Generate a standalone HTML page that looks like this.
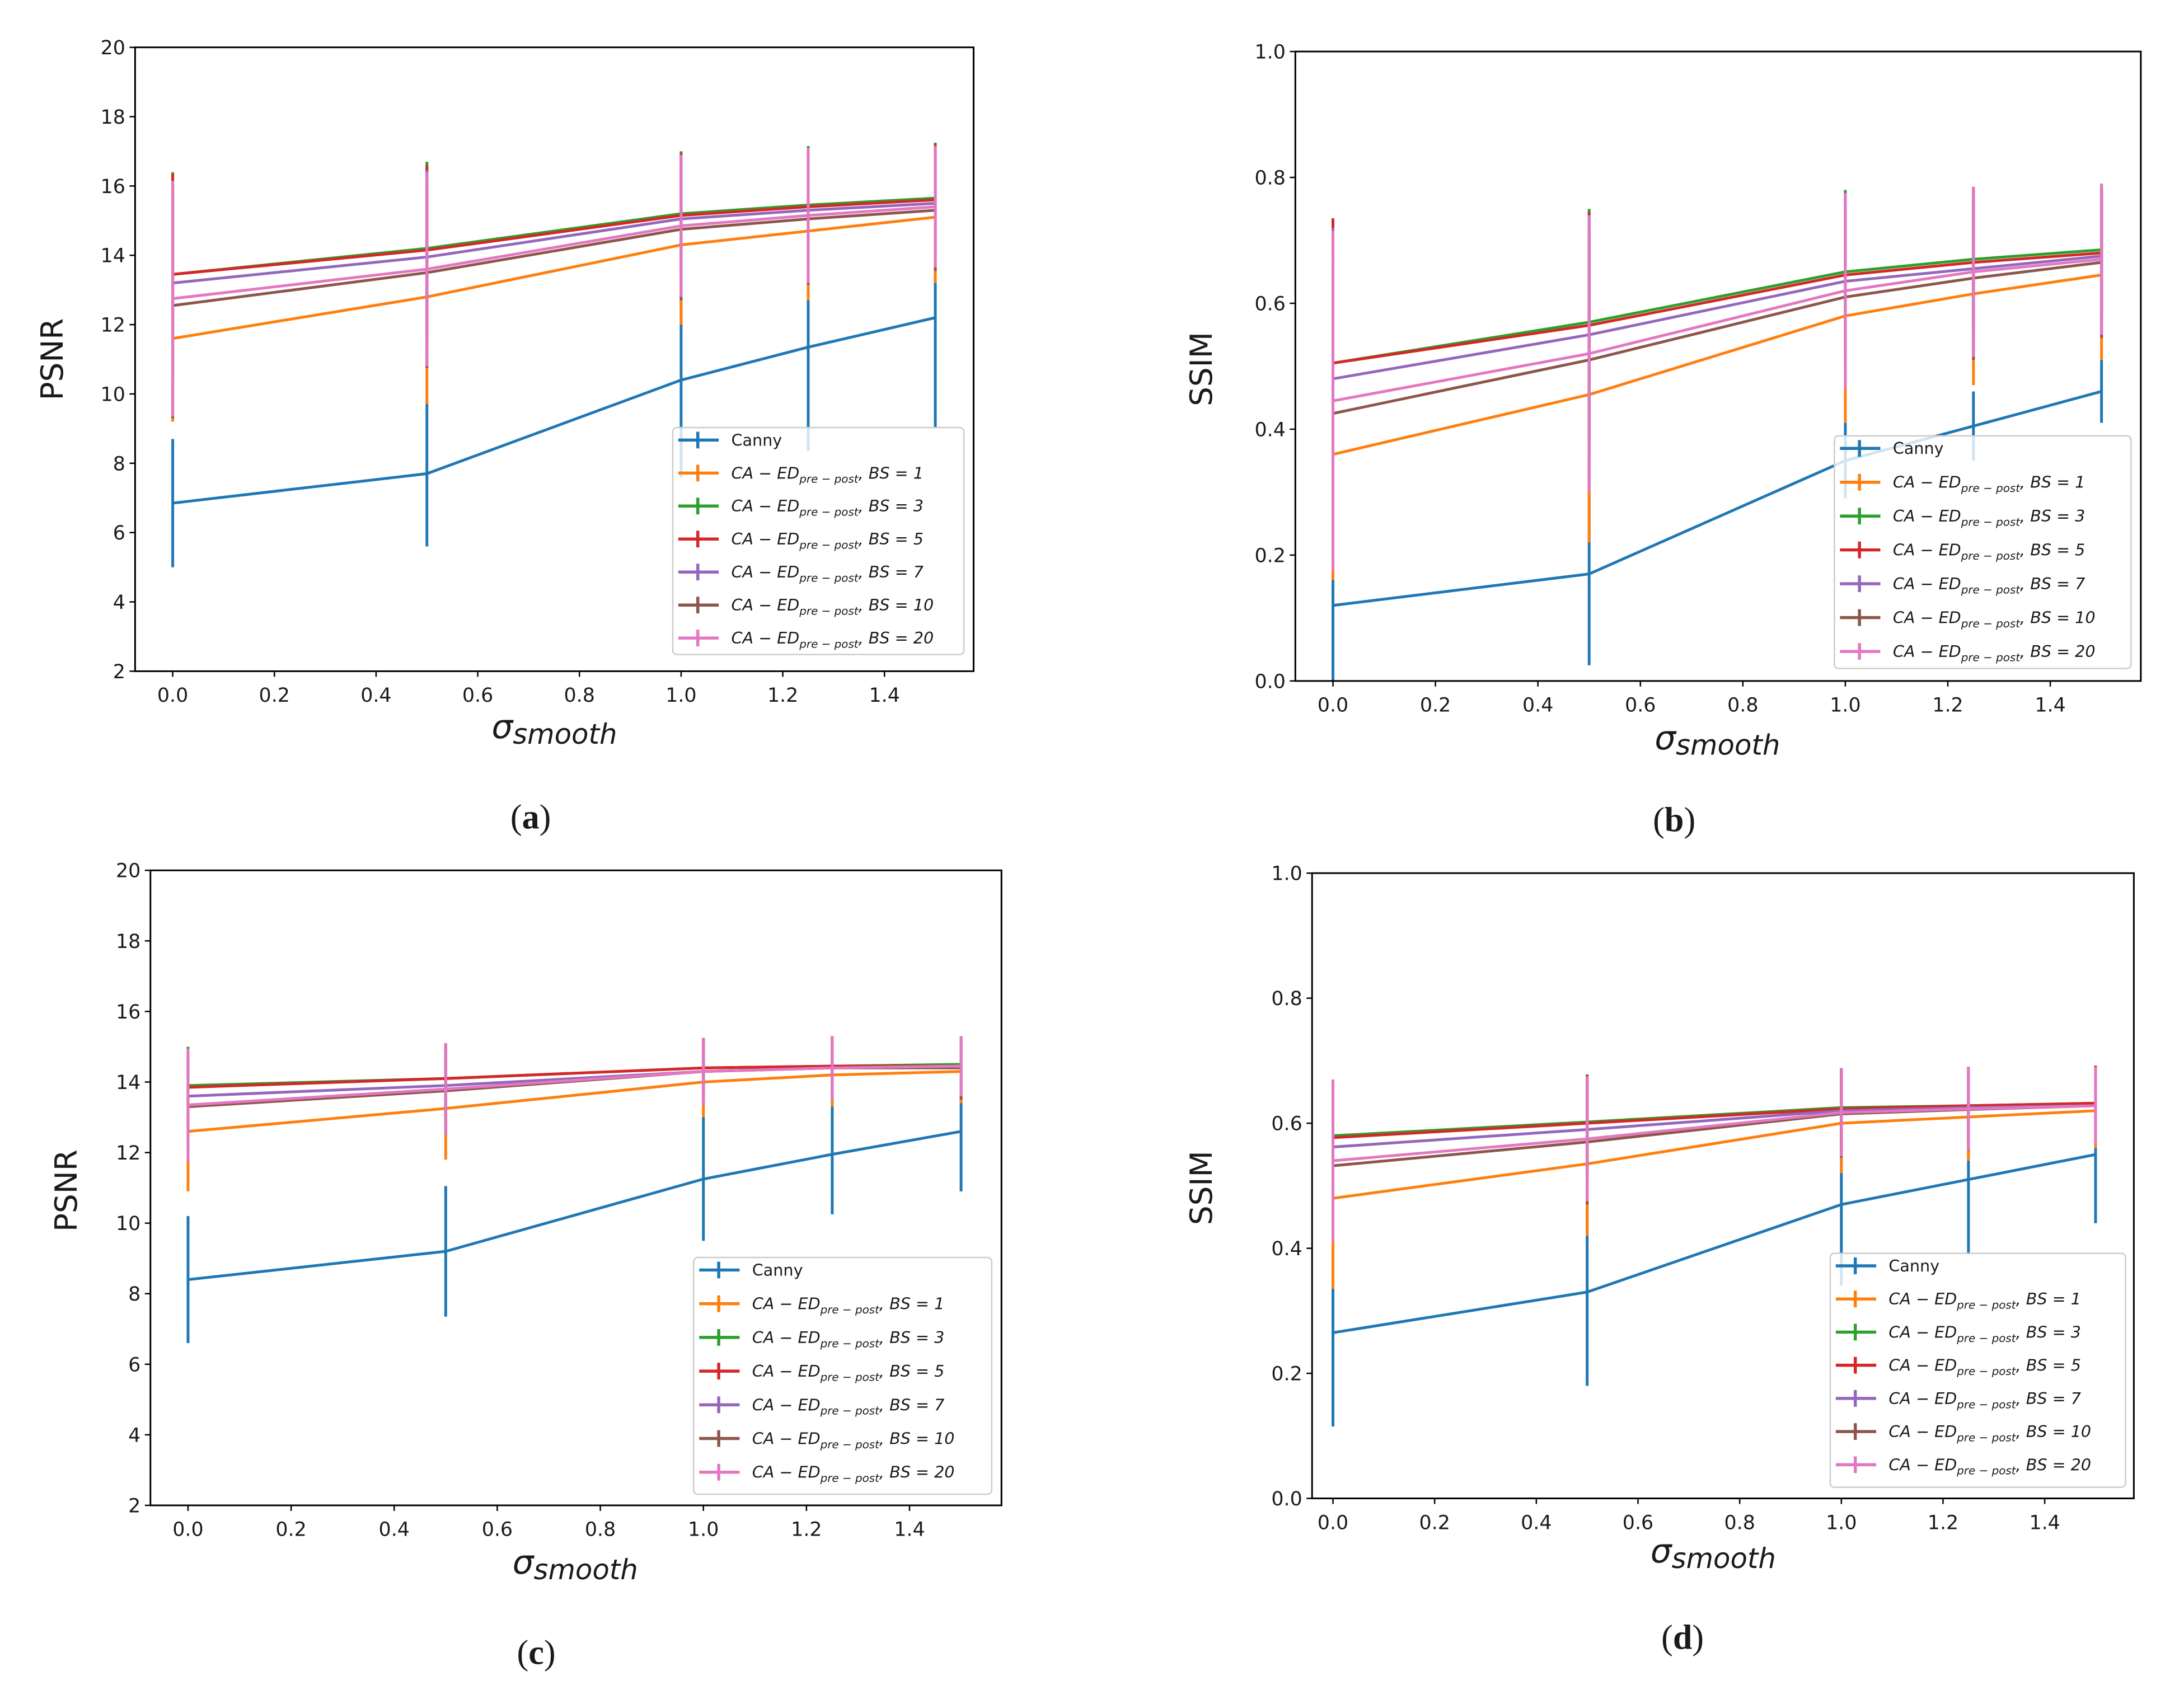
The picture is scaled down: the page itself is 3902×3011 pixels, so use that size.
<!DOCTYPE html>
<html><head><meta charset="utf-8"><style>
html,body{margin:0;padding:0;background:#fff;}
svg{display:block;}
text{font-family:"DejaVu Sans","Liberation Sans",sans-serif;fill:#1a1a1a;}
text.serif{font-family:"Liberation Serif",serif;}
</style></head>
<body>
<svg id="fig" xmlns="http://www.w3.org/2000/svg" width="3902" height="3011" viewBox="0 0 1568 1210" preserveAspectRatio="none"></svg>
<script>
const xVals = [0, 0.5, 1.0, 1.25, 1.5];
const seriesNames = ["Canny","BS = 1","BS = 3","BS = 5","BS = 7","BS = 10","BS = 20"];
const colors = ["#1f77b4","#ff7f0e","#2ca02c","#d62728","#9467bd","#8c564b","#e377c2"];
const xTicks = [0,0.2,0.4,0.6,0.8,1.0,1.2,1.4];
const psnrTicks = [2,4,6,8,10,12,14,16,18,20];
const ssimTicks = [0,0.2,0.4,0.6,0.8,1.0];

// Panel a (PSNR)
const aMeans = [
 [6.85,7.7,10.4,11.35,12.2],
 [11.6,12.8,14.3,14.7,15.1],
 [13.45,14.2,15.2,15.45,15.65],
 [13.45,14.15,15.15,15.4,15.6],
 [13.2,13.95,15.05,15.3,15.5],
 [12.55,13.5,14.75,15.05,15.3],
 [12.75,13.6,14.85,15.15,15.4]];
const aErr = [
 [1.85,2.1,2.8,3.0,3.2],
 [2.4,3.1,2.3,2.0,1.9],
 [2.95,2.5,1.8,1.7,1.6],
 [2.9,2.45,1.8,1.7,1.6],
 [2.95,2.5,1.85,1.75,1.65],
 [3.25,2.75,2.05,1.9,1.75],
 [3.4,2.8,2.05,1.95,1.75]];
// Panel b (SSIM)
const bMeans = [
 [0.12,0.17,0.35,0.405,0.46],
 [0.36,0.455,0.58,0.615,0.645],
 [0.505,0.57,0.65,0.67,0.685],
 [0.505,0.565,0.645,0.665,0.68],
 [0.48,0.55,0.635,0.655,0.675],
 [0.425,0.51,0.61,0.64,0.665],
 [0.445,0.52,0.62,0.65,0.67]];
const bErr = [
 [0.12,0.145,0.06,0.055,0.05],
 [0.2,0.235,0.17,0.145,0.135],
 [0.23,0.18,0.13,0.115,0.105],
 [0.23,0.18,0.13,0.115,0.105],
 [0.24,0.19,0.14,0.125,0.11],
 [0.24,0.2,0.14,0.13,0.12],
 [0.27,0.22,0.155,0.135,0.12]];
// Panel c (PSNR)
const cMeans = [
 [8.4,9.2,11.25,11.95,12.6],
 [12.6,13.25,14.0,14.2,14.3],
 [13.9,14.1,14.4,14.45,14.5],
 [13.85,14.1,14.4,14.45,14.45],
 [13.6,13.9,14.3,14.4,14.45],
 [13.3,13.75,14.3,14.4,14.4],
 [13.35,13.8,14.3,14.4,14.45]];
const cErr = [
 [1.8,1.85,1.75,1.7,1.7],
 [1.7,1.45,1.0,0.9,0.9],
 [1.1,1.0,0.85,0.85,0.8],
 [1.1,1.0,0.85,0.85,0.8],
 [1.3,1.1,0.9,0.85,0.85],
 [1.45,1.25,0.95,0.9,0.9],
 [1.6,1.3,0.95,0.9,0.85]];
// Panel d (SSIM)
const dMeans = [
 [0.265,0.33,0.47,0.51,0.55],
 [0.48,0.535,0.6,0.61,0.62],
 [0.58,0.602,0.625,0.628,0.632],
 [0.577,0.6,0.623,0.628,0.632],
 [0.562,0.59,0.62,0.625,0.628],
 [0.532,0.57,0.615,0.622,0.628],
 [0.54,0.575,0.617,0.623,0.628]];
const dErr = [
 [0.15,0.15,0.13,0.12,0.11],
 [0.145,0.115,0.08,0.07,0.06],
 [0.09,0.076,0.063,0.062,0.06],
 [0.092,0.077,0.064,0.062,0.06],
 [0.1,0.085,0.068,0.065,0.062],
 [0.12,0.1,0.07,0.066,0.062],
 [0.13,0.1,0.07,0.066,0.062]];

const NS="http://www.w3.org/2000/svg";
const svg=document.getElementById('fig');
function el(tag,attrs,parent){const e=document.createElementNS(NS,tag);for(const k in attrs)e.setAttribute(k,attrs[k]);(parent||svg).appendChild(e);return e;}

const panels=[
 {id:'a',means:aMeans,err:aErr,ticks:psnrTicks,ymin:2,ymax:20,fmt:v=>String(v),ylabel:'PSNR',
  L:97,R:699,T:34,B:482,x0:124,x14:635,ylx:45,yly:258,slx:398,sly:530,tagx:381,tagy:595,
  leg:{x:483,y:307,w:209,h:163,y0:316,dy:23.7}},
 {id:'b',means:bMeans,err:bErr,ticks:ssimTicks,ymin:0,ymax:1,fmt:v=>v.toFixed(1),ylabel:'SSIM',
  L:930,R:1537,T:37,B:489,x0:957,x14:1472,ylx:870,yly:265,slx:1233,sly:538,tagx:1202,tagy:597,
  leg:{x:1317,y:313,w:213,h:167,y0:322,dy:24.3}},
 {id:'c',means:cMeans,err:cErr,ticks:psnrTicks,ymin:2,ymax:20,fmt:v=>String(v),ylabel:'PSNR',
  L:108,R:719,T:625,B:1081,x0:135,x14:653,ylx:55,yly:855,slx:413,sly:1130,tagx:385,tagy:1195,
  leg:{x:498,y:903,w:214,h:170,y0:912,dy:24.2}},
 {id:'d',means:dMeans,err:dErr,ticks:ssimTicks,ymin:0,ymax:1,fmt:v=>v.toFixed(1),ylabel:'SSIM',
  L:942,R:1532,T:627,B:1076,x0:957,x14:1468,ylx:870,yly:853,slx:1230,sly:1122,tagx:1208,tagy:1184,
  leg:{x:1314,y:900,w:212,h:168,y0:909,dy:23.8}}
];

panels.forEach(p=>{
  const g=el('g',{});
  
  
  const xs=v=>p.x0+(p.x14-p.x0)*v/1.4;
  const ys=v=>p.B-(p.B-p.T)*(v-p.ymin)/(p.ymax-p.ymin);
  p.means.forEach((m,si)=>{
    const sg=el('g',{},g);
    
    
    const pts=m.map((v,i)=>xs(xVals[i]).toFixed(2)+','+ys(v).toFixed(2)).join(' ');
    const pl=el('polyline',{points:pts,fill:'none',stroke:colors[si],'stroke-width':2},sg);
    
    
    m.forEach((v,i)=>{
      const e=p.err[si][i];
      const ln=el('line',{x1:xs(xVals[i]),x2:xs(xVals[i]),y1:ys(v-e),y2:ys(v+e),stroke:colors[si],'stroke-width':2},sg);
      
      
    });
  });
  const box=el('rect',{x:p.L,y:p.T,width:p.R-p.L,height:p.B-p.T,fill:'none',stroke:'#000','stroke-width':1.2},g);
  
  
  p.ticks.forEach(t=>{
    const y=ys(t);
    el('line',{x1:p.L-4,x2:p.L,y1:y,y2:y,stroke:'#000','stroke-width':1},g);
    const tx=el('text',{x:p.L-7,y:y+5,'font-size':14,'text-anchor':'end'},g);
    tx.textContent=p.fmt(t);
    
    
  });
  xTicks.forEach(t=>{
    const x=xs(t);
    el('line',{x1:x,x2:x,y1:p.B,y2:p.B+4,stroke:'#000','stroke-width':1},g);
    const tx=el('text',{x:x,y:p.B+22,'font-size':14,'text-anchor':'middle'},g);
    tx.textContent=t.toFixed(1);
    
    
  });
  const yl=el('text',{x:p.ylx,y:p.yly,'font-size':22,'text-anchor':'middle',transform:'rotate(-90 '+p.ylx+' '+p.yly+')'},g);
  yl.textContent=p.ylabel;
  
  
  const xl=el('text',{x:p.slx,y:p.sly,'font-size':20,'text-anchor':'middle','font-style':'italic'},g);
  
  
  const s1=el('tspan',{'font-size':24},xl); s1.textContent='σ';
  const s2=el('tspan',{dy:4},xl); s2.textContent='smooth';
  const tg=el('text',{x:p.tagx,y:p.tagy,'font-size':25,'text-anchor':'middle','class':'serif'},g);
  
  
  const t1=el('tspan',{},tg); t1.textContent='(';
  const t2=el('tspan',{'font-weight':'bold'},tg); t2.textContent=p.id;
  const t3=el('tspan',{},tg); t3.textContent=')';
  const L=p.leg;
  const lg=el('g',{},g);
  
  
  el('rect',{x:L.x,y:L.y,width:L.w,height:L.h,rx:3,fill:'#fff','fill-opacity':0.8,stroke:'#ccc','stroke-width':1},lg);
  seriesNames.forEach((n,i)=>{
    const y=L.y0+i*L.dy;
    const eg=el('g',{},lg);
    
    
    el('line',{x1:L.x+4,x2:L.x+33,y1:y,y2:y,stroke:colors[i],'stroke-width':2.2},eg);
    el('line',{x1:L.x+18,x2:L.x+18,y1:y-6,y2:y+6,stroke:colors[i],'stroke-width':2.2},eg);
    const t=el('text',{x:L.x+42,y:y+4,'font-size':11.5},eg);
    if(i===0){t.textContent='Canny';}
    else{
      t.setAttribute('font-style','italic');
      const a=el('tspan',{},t); a.textContent='CA − ED';
      const b=el('tspan',{'font-size':8,dy:3},t); b.textContent='pre − post';
      const c=el('tspan',{dy:-3},t); c.textContent=', '+n;
    }
  });
});
</script>
</body></html>
